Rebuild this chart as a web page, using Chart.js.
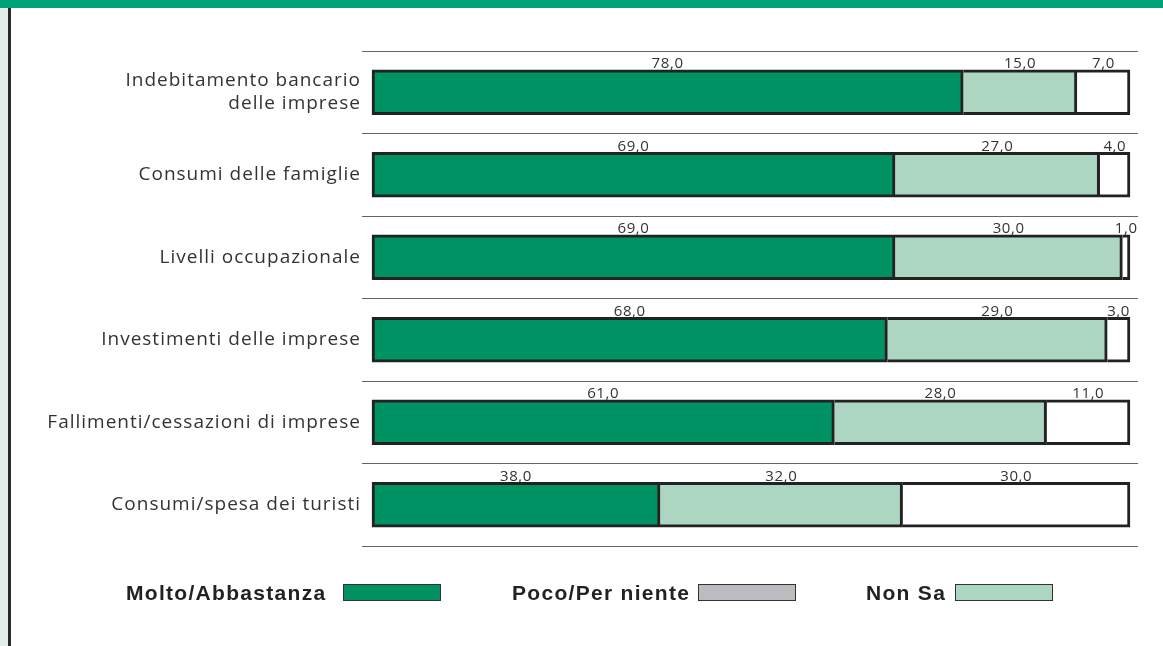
<!DOCTYPE html>
<html>
<head>
<meta charset="utf-8">
<script src="https://cdn.jsdelivr.net/npm/chart.js@4.4.1/dist/chart.umd.min.js"></script>
<style>
  html, body { margin: 0; padding: 0; background: #fff; }
  #wrap { position: relative; width: 1163px; height: 646px; overflow: hidden; background: #fff; }
  #band { position: absolute; left: 0; top: 0; width: 1163px; height: 8px; background: #00a27a; }
  #strip { position: absolute; left: 0; top: 8px; width: 8px; height: 638px; background: #e2eee7; }
  #rule { position: absolute; left: 8px; top: 8px; width: 3px; height: 638px; background: #2a2a2a; }
  #chart { position: absolute; left: 0; top: 0; }
  .legend { position: absolute; top: 580px; left: 0; width: 1163px; height: 26px;
            font-family: "Liberation Sans", Arial, sans-serif; font-weight: bold; font-size: 21px;
            letter-spacing: 1.3px; color: #222; }
  .legend .txt { position: absolute; top: 0; height: 26px; line-height: 26px; white-space: nowrap; }
  .legend .box { position: absolute; top: 4px; box-sizing: border-box; width: 98px; height: 17px;
                 border: 1px solid #333; }
</style>
</head>
<body>
<div id="wrap">
  <div id="band"></div>
  <div id="strip"></div>
  <div id="rule"></div>
  <canvas id="chart" width="1163" height="646"></canvas>
  <div class="legend" id="legend"></div>
</div>
<script>
// Survey items (one stacked bar each)
const categories = [
  ["Indebitamento bancario", "delle imprese"],
  "Consumi delle famiglie",
  "Livelli occupazionale",
  "Investimenti delle imprese",
  "Fallimenti/cessazioni di imprese",
  "Consumi/spesa dei turisti"
];
// Percentages for each answer group
const seriesNames = ["Molto/Abbastanza", "Poco/Per niente", "Non Sa"];
const molto = [78.0, 69.0, 69.0, 68.0, 61.0, 38.0];
const poco  = [15.0, 27.0, 30.0, 29.0, 28.0, 32.0];
const nonSa = [7.0, 4.0, 1.0, 3.0, 11.0, 30.0];

// Fill colours of the bar segments and of the legend keys
const barColors = ["#009262", "#acd5c2", "#ffffff"];
const legendColors = ["#009262", "#bcbcc0", "#acd5c2"];
const legendTextX = [126, 512, 866];
const legendBoxX = [343, 698, 955];

const fmt = v => v.toFixed(1).replace(".", ",");

// Slightly tracked lettering for all canvas text
const tracking = {
  id: "tracking",
  beforeUpdate(chart) { chart.ctx.letterSpacing = "1px"; },
  beforeDraw(chart) { chart.ctx.letterSpacing = "1px"; }
};

// Value labels centred above each segment
const valueLabels = {
  id: "valueLabels",
  afterDatasetsDraw(chart) {
    const ctx = chart.ctx;
    ctx.save();
    ctx.letterSpacing = "0.6px";
    ctx.font = '15px "Open Sans", sans-serif';
    ctx.fillStyle = "#333";
    ctx.textAlign = "center";
    ctx.textBaseline = "bottom";
    chart.data.datasets.forEach((ds, di) => {
      const meta = chart.getDatasetMeta(di);
      meta.data.forEach((bar, i) => {
        const cx = (bar.x + bar.base) / 2;
        const top = bar.y - bar.height / 2;
        ctx.fillText(fmt(ds.data[i]), cx, top + 1.5);
      });
    });
    ctx.restore();
  }
};

const datasets = [molto, poco, nonSa].map((d, i) => ({
  label: seriesNames[i],
  data: d,
  backgroundColor: barColors[i],
  borderColor: "#222",
  borderWidth: 3,
  borderSkipped: i === 0 ? false : "left",
  barThickness: 45
}));

new Chart(document.getElementById("chart"), {
  type: "bar",
  data: { labels: categories, datasets },
  plugins: [tracking, valueLabels],
  options: {
    indexAxis: "y",
    responsive: false,
    animation: false,
    layout: { padding: { top: 51, bottom: 100, left: 0, right: 25 } },
    plugins: { legend: { display: false }, tooltip: { enabled: false } },
    scales: {
      x: {
        stacked: true,
        display: false,
        min: -1.32,
        max: 101.06
      },
      y: {
        stacked: true,
        afterFit(scale) { scale.width = 362; },
        grid: { offset: true, color: "#666", lineWidth: 1, drawTicks: false },
        border: { display: false },
        ticks: {
          padding: 1,
          color: "#333",
          font: { family: '"Open Sans", sans-serif', size: 19, lineHeight: 1.22 }
        }
      }
    }
  }
});

// Legend: label text followed by its colour key
const legend = document.getElementById("legend");
seriesNames.forEach((name, i) => {
  const t = document.createElement("span");
  t.className = "txt";
  t.style.left = legendTextX[i] + "px";
  t.textContent = name;
  const b = document.createElement("span");
  b.className = "box";
  b.style.left = legendBoxX[i] + "px";
  b.style.background = legendColors[i];
  legend.appendChild(t);
  legend.appendChild(b);
});
</script>
</body>
</html>
